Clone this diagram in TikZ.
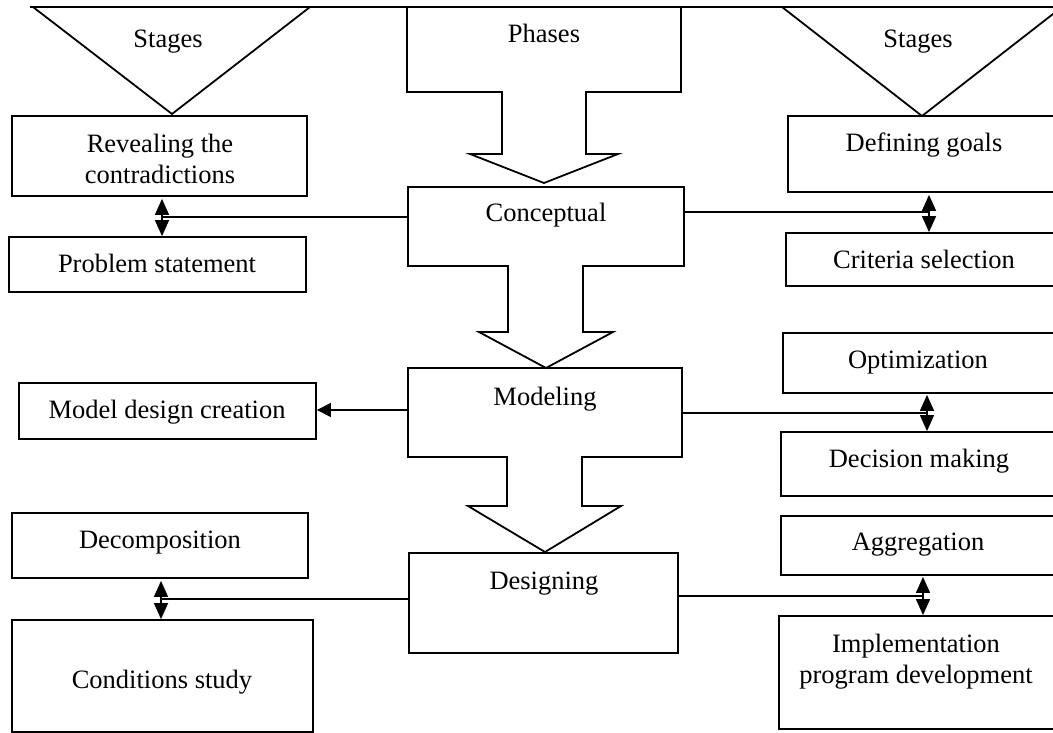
\documentclass[tikz,border=0pt]{standalone}
\usepackage{fontspec}
\setmainfont{Liberation Serif}
\usetikzlibrary{arrows.meta,fit}
\tikzset{
  box/.style={draw, line width=1.8pt, inner sep=0pt, fit={#1}},
  area/.style={inner sep=0pt, fit={#1}},
  lbl/.style={font=\fontsize{26.5}{31}\selectfont, inner sep=0pt, align=center},
  blk/.style={draw, line width=1.8pt, line join=miter},
  conn/.style={line width=1.4pt},
  dbl/.style={line width=1.4pt, {Triangle[length=16pt,width=14pt]}-{Triangle[length=16pt,width=14pt]}},
  sgl/.style={line width=1.2pt, -{Triangle[length=14pt,width=14pt]}},
}
\begin{document}
\begin{tikzpicture}[x=1pt,y=-1pt]
\useasboundingbox (0,0) rectangle (1053,733);
\clip (0,0) rectangle (1053,733);
\fill[white] (0,0) rectangle (1053,733);

% top line and stage triangles
\draw[blk] (30,7) -- (1070,7);
\draw[blk] (33,7) -- (172,114) -- (310,7);
\draw[blk] (782,7) -- (922,116) -- (1062,7);

% phases block arrow
\draw[blk] (407,7) -- (681,7) -- (681,92) -- (586,92) -- (586,154) -- (618,154)
  -- (544,183) -- (470,154) -- (502,154) -- (502,92) -- (407,92) -- cycle;
% conceptual block arrow
\draw[blk] (408,187) -- (684,187) -- (684,266) -- (583,266) -- (583,332) -- (613,332)
  -- (546,368) -- (479,332) -- (508,332) -- (508,266) -- (408,266) -- cycle;
\node[area={(408,187)(684,266)}] (concept) {};
% modeling block arrow
\draw[blk] (408,368) -- (682,368) -- (682,457) -- (582,457) -- (582,506) -- (621,506)
  -- (545,552) -- (468,506) -- (507,506) -- (507,457) -- (408,457) -- cycle;
\node[area={(408,368)(682,457)}] (modeling) {};
% designing
\node[box={(409,553)(678,653)}] (designing) {};

% left boxes
\node[box={(12,116)(307,196)}] (reveal) {};
\node[box={(9,237)(306,292)}] (problem) {};
\node[box={(19,383)(316,439)}] (modeldesign) {};
\node[box={(12,513)(308,578)}] (decomp) {};
\node[box={(12,620)(313,732)}] (cond) {};

% right boxes
\node[box={(788,116)(1062,192)}] (goals) {};
\node[box={(786,233)(1062,286)}] (criteria) {};
\node[box={(783,333)(1062,393)}] (optim) {};
\node[box={(781,432)(1062,496)}] (decision) {};
\node[box={(781,516)(1062,575)}] (aggr) {};
\node[box={(779,616)(1062,729)}] (impl) {};

% texts
\node[lbl, anchor=base] (tStagesL) at (168,48) {Stages};
\node[lbl, anchor=base] (tPhases) at (544,43) {Phases};
\node[lbl, anchor=base] (tStagesR) at (918,48) {Stages};
\node[lbl] (tReveal) at (160,159) {Revealing the\\contradictions};
\node[lbl, anchor=base] (tProblem) at (157,272) {Problem statement};
\node[lbl, anchor=base] (tGoals) at (924,152) {Defining goals};
\node[lbl, anchor=base] (tCrit) at (924,268) {Criteria selection};
\node[lbl, anchor=base] (tConc) at (546,222) {Conceptual};
\node[lbl, anchor=base] (tModelDesign) at (167,418) {Model design creation};
\node[lbl, anchor=base] (tModeling) at (545,405) {Modeling};
\node[lbl, anchor=base] (tOpt) at (918,368) {Optimization};
\node[lbl, anchor=base] (tDec) at (919,467) {Decision making};
\node[lbl, anchor=base] (tDecomp) at (160,548) {Decomposition};
\node[lbl, anchor=base] (tDesigning) at (544,589) {Designing};
\node[lbl, anchor=base] (tAgg) at (918,550) {Aggregation};
\node[lbl] (tImpl) at (916,662) {Implementation\\program development};
\node[lbl, anchor=base] (tCond) at (162,688) {Conditions study};

% junction coordinates
\coordinate (j1) at (162,217);
\coordinate (j2) at (929,212);
\coordinate (j3) at (927,413);
\coordinate (j4) at (161,599);
\coordinate (j5) at (923,596);
\coordinate (j6) at (408,410);

% connectors
\draw[dbl, shorten <=2pt] (reveal.south -| j1) -- (problem.north -| j1);
\draw[conn] (concept.west |- j1) -- (j1);
\draw[dbl, shorten <=2pt] (goals.south -| j2) -- (criteria.north -| j2);
\draw[conn] (concept.east |- j2) -- (j2);
\draw[sgl] (j6) -- (modeldesign.east |- j6);
\draw[dbl, shorten <=1pt] (optim.south -| j3) -- (decision.north -| j3);
\draw[conn] (modeling.east |- j3) -- (j3);
\draw[dbl, shorten <=2pt] (decomp.south -| j4) -- (cond.north -| j4);
\draw[conn] (designing.west |- j4) -- (j4);
\draw[dbl, shorten <=1pt] (aggr.south -| j5) -- (impl.north -| j5);
\draw[conn] (designing.east |- j5) -- (j5);
\end{tikzpicture}
\end{document}
